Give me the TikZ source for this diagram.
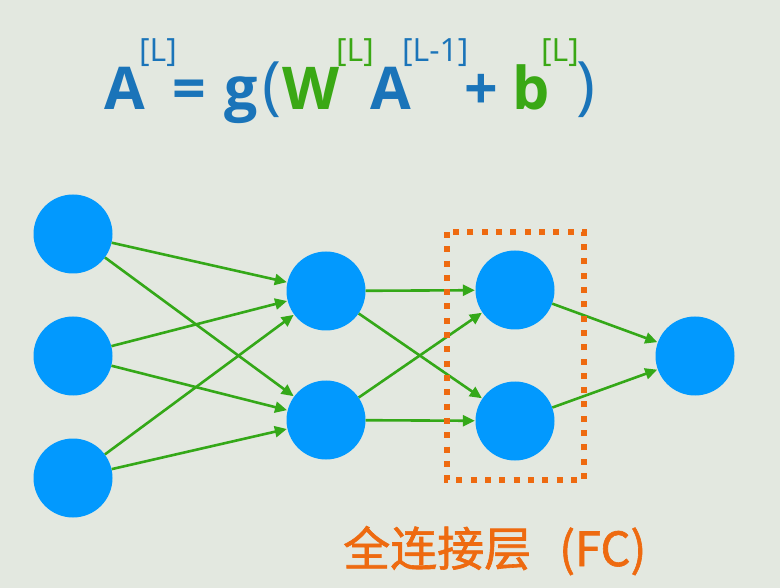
\documentclass[tikz,border=0pt]{standalone}
\usepackage{fontspec}
\setmainfont{Open Sans}
\newfontfamily\cjk[FakeBold=1.3]{Noto Sans CJK SC}
\usetikzlibrary{arrows.meta}
\definecolor{bgc}{HTML}{E3E8E0}
\definecolor{nodeblue}{HTML}{0299FE}
\definecolor{edgegreen}{HTML}{34A818}
\definecolor{fblue}{HTML}{1A74B9}
\definecolor{fgreen}{HTML}{3AA815}
\definecolor{fcorange}{HTML}{EE6A10}
\tikzset{
  neuron/.style={circle,fill=nodeblue,minimum size=79pt,inner sep=0pt},
  link/.style={draw=edgegreen,line width=2.6pt,-{Triangle[length=12pt,width=11pt]},shorten >=0.5pt},
  big/.style={anchor=base west,inner sep=0pt,font=\fontsize{59}{66}\selectfont\bfseries},
  sup/.style={anchor=base west,inner sep=0pt,font=\fontsize{32}{36}\selectfont},
  paren/.style={anchor=base west,inner sep=0pt,font=\fontsize{64}{70}\selectfont},
  fcbox/.style={draw=fcorange,line width=5.5pt,dash pattern=on 6pt off 8.3pt}
}
\begin{document}
\begin{tikzpicture}[x=1pt,y=-1pt]
\fill[bgc] (0,0) rectangle (780,588);
\useasboundingbox (0,0) rectangle (780,588);
% formula
\node[big,text=fblue] (fA) at (104,110) {A};
\node[sup,text=fblue] (fs1) at (139,62) {[L]};
\node[big,text=fblue] (feq) at (172,110) {=};
\node[big,text=fblue] (fg) at (224,110) {g};
\node[paren,text=fblue] (flp) at (262,108) {(};
\node[big,text=fgreen] (fW) at (282,110) {W};
\node[sup,text=fgreen] (fs2) at (336,62) {[L]};
\node[big,text=fblue] (fA2) at (370,110) {A};
\node[sup,text=fblue] (fs3) at (402,62) {[L-1]};
\node[big,text=fblue] (fplus) at (464,110) {+};
\node[big,text=fgreen] (fb) at (512,110) {b};
\node[sup,text=fgreen] (fs4) at (541,62) {[L]};
\node[paren,text=fblue] (frp) at (576,108) {)};
% network
\node[neuron] (i1) at (73,234) {};
\node[neuron] (i2) at (73,356) {};
\node[neuron] (i3) at (73,478) {};
\node[neuron] (h1) at (326,291) {};
\node[neuron] (h2) at (326,420) {};
\node[neuron] (f1) at (515,290) {};
\node[neuron] (f2) at (515,421) {};
\node[neuron] (o) at (695,356) {};
\foreach \a in {i1,i2,i3}{\foreach \b in {h1,h2}{\draw[link] (\a) -- (\b);}}
\foreach \a in {h1,h2}{\foreach \b in {f1,f2}{\draw[link] (\a) -- (\b);}}
\foreach \a in {f1,f2}{\draw[link] (\a) -- (o);}
% FC box
\coordinate (bx1) at (447,232);
\coordinate (bx2) at (584,480);
\draw[fcbox] (bx1) rectangle (bx2);
\node[anchor=base west,inner sep=0pt,text=fcorange,font=\cjk\fontsize{47}{50}\selectfont] (fc) at (343,566) {全连接层\hspace{28pt}(FC)};
\end{tikzpicture}
\end{document}
